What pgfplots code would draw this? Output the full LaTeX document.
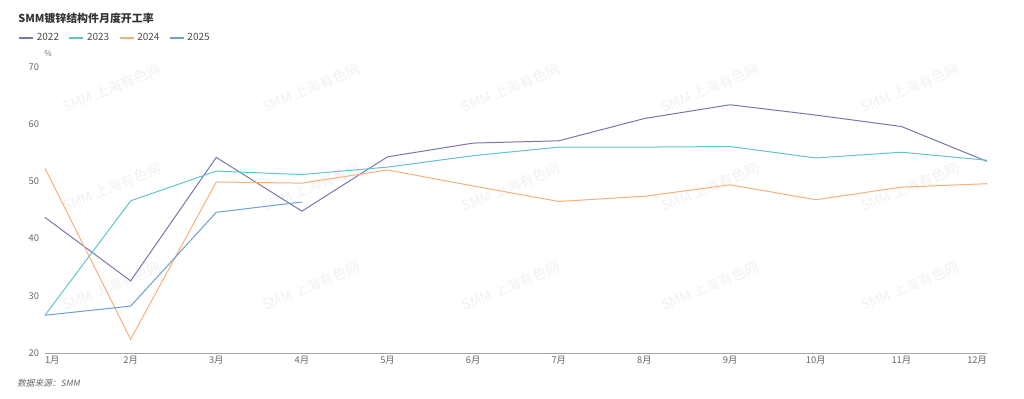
\documentclass[border=0pt]{standalone}
\usepackage{fontspec}
\setmainfont{Noto Sans CJK SC}
\newfontfamily\srcfont{Noto Sans CJK SC}[FakeSlant=0.2]
\usepackage{pgfplots}
\pgfplotsset{compat=1.18}
\definecolor{cA}{HTML}{7478B0}
\definecolor{cB}{HTML}{62C3CF}
\definecolor{cC}{HTML}{F6B07C}
\definecolor{cD}{HTML}{6B9FD6}
\definecolor{tickc}{HTML}{666666}
\definecolor{axc}{HTML}{A0A4AD}
\definecolor{wm}{HTML}{F1F1F1}
\begin{document}
\begin{tikzpicture}[x=0.75pt,y=0.75pt]
\path[use as bounding box] (0,0) rectangle (1024,-399);
% watermarks
\foreach \i in {0,...,4}{
  \foreach \j in {0,...,2}{
    \node[text=wm,rotate=22,font=\fontsize{10.5}{12}\selectfont] at ({112+199.5*\i},{-88-99*\j}) {SMM 上海有色网};
  }
}
\node[anchor=west,font=\fontsize{8.2}{10}\selectfont\bfseries,text=black!80,inner sep=0pt] at (18,-18) {SMM镀锌结构件月度开工率};
\node[anchor=south west,font=\fontsize{6}{7}\selectfont,text=tickc,inner sep=0pt] at (44,-57) {\%};
\node[anchor=west,font=\srcfont\fontsize{6.5}{8}\selectfont,text=tickc,inner sep=0pt] at (17,-383) {数据来源：SMM};
\begin{axis}[
  at={(33.75pt,-264.75pt)}, anchor=south west,
  scale only axis, width=706.5pt, height=214.5pt,
  xmin=1, xmax=12, ymin=20, ymax=70,
  axis lines*=left,
  x axis line style={draw=axc, line width=0.75pt, -},
  y axis line style={draw=none},
  xtick={1,...,12},
  xticklabels={\makebox[0pt][l]{1月},2月,3月,4月,5月,6月,7月,8月,9月,10月,11月,\makebox[0pt][r]{12月}},
  xtick style={draw=none},
  xticklabel style={font=\fontsize{7}{8}\selectfont, text=tickc, anchor=north, yshift=1pt},
  ytick={20,30,...,70},
  ytick style={draw=none},
  yticklabel style={font=\fontsize{7}{8}\selectfont, text=tickc, anchor=east, xshift=-1pt},
  /pgf/number format/assume math mode=true,
  clip=false,
  legend columns=4,
  legend style={draw=none, fill=none, inner sep=0pt, at={(-0.0287,1.101)}, anchor=west,
    font=\fontsize{7.5}{9}\selectfont, text=black!70,
    /tikz/every even column/.append style={column sep=5pt}},
  legend image code/.code={\draw[#1, line width=1.5pt] (0pt,0pt) -- (10.5pt,0pt);},
  every axis plot/.append style={line width=0.75pt},
]
\addplot[cA] coordinates {(1,43.7)(2,32.6)(3,54.2)(4,44.8)(5,54.3)(6,56.7)(7,57.1)(8,61.0)(9,63.4)(10,61.6)(11,59.6)(12,53.5)};
\addlegendentry{2022}
\addplot[cB] coordinates {(1,26.6)(2,46.6)(3,51.8)(4,51.2)(5,52.5)(6,54.5)(7,56.0)(8,56.0)(9,56.1)(10,54.1)(11,55.1)(12,53.7)};
\addlegendentry{2023}
\addplot[cC] coordinates {(1,52.3)(2,22.4)(3,49.9)(4,49.7)(5,52.0)(6,49.2)(7,46.5)(8,47.4)(9,49.4)(10,46.8)(11,49.0)(12,49.6)};
\addlegendentry{2024}
\addplot[cD] coordinates {(1,26.6)(2,28.2)(3,44.6)(4,46.4)};
\addlegendentry{2025}
\end{axis}
\end{tikzpicture}
\end{document}
